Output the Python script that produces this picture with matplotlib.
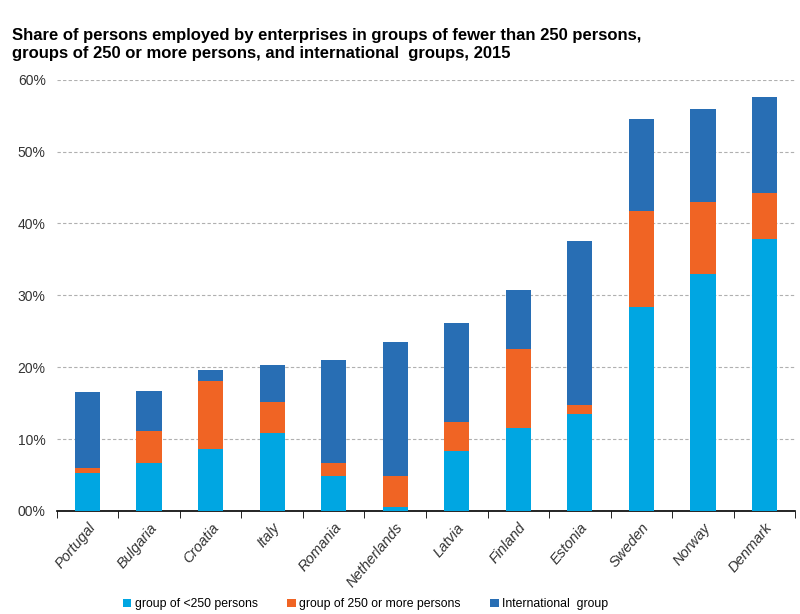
import matplotlib.pyplot as plt
import numpy as np
from matplotlib.ticker import FuncFormatter

plt.rcParams['font.family'] = ['Liberation Sans', 'DejaVu Sans']

# Data (shares in %)
countries = ['Portugal', 'Bulgaria', 'Croatia', 'Italy', 'Romania', 'Netherlands',
             'Latvia', 'Finland', 'Estonia', 'Sweden', 'Norway', 'Denmark']
small_groups = [5.3, 6.6, 8.6, 10.9, 4.9, 0.5, 8.3, 11.6, 13.5, 28.4, 33.0, 37.9]
large_groups = [0.7, 4.5, 9.5, 4.3, 1.8, 4.4, 4.1, 10.9, 1.3, 13.3, 10.0, 6.4]
intl_groups = [10.5, 5.6, 1.5, 5.1, 14.3, 18.6, 13.8, 8.3, 22.7, 12.9, 12.9, 13.3]

labels = ['group of <250 persons', 'group of 250 or more persons', 'International  group']
colors = ['#00A6E2', '#F06424', '#286EB4']

fig = plt.figure(figsize=(8, 6.14), dpi=100)
ax = fig.add_axes([0.071, 0.168, 0.923, 0.702])

x = np.arange(len(countries))
s = np.array(small_groups)
l = np.array(large_groups)
i = np.array(intl_groups)
w = 0.41
ax.bar(x, s, w, color=colors[0], label=labels[0], zorder=3)
ax.bar(x, l, w, bottom=s, color=colors[1], label=labels[1], zorder=3)
ax.bar(x, i, w, bottom=s + l, color=colors[2], label=labels[2], zorder=3)

ax.set_xlim(-0.5, len(countries) - 0.5)
ax.set_ylim(0, 60)
ax.set_yticks(range(0, 61, 10))
ax.yaxis.set_major_formatter(FuncFormatter(lambda v, p: '00%' if v == 0 else '%d%%' % v))
ax.tick_params(axis='y', length=0, labelsize=10, colors='#333333', pad=8)
ax.grid(axis='y', linestyle=(0, (3, 2)), color='#B0B0B0', linewidth=0.8, zorder=0)

# category labels between boundary ticks
ax.set_xticks(x)
ax.set_xticklabels(countries, rotation=50, ha='right', rotation_mode='anchor',
                   fontstyle='italic', fontsize=10.5, color='#333333')
ax.tick_params(axis='x', length=0, pad=7)
ax.set_xticks(np.arange(-0.5, len(countries), 1), minor=True)
ax.tick_params(axis='x', which='minor', length=5, direction='out', color='black')

for side in ['top', 'right', 'left']:
    ax.spines[side].set_visible(False)
ax.spines['bottom'].set_color('black')
ax.spines['bottom'].set_linewidth(1.2)

fig.text(0.015, 0.955, 'Share of persons employed by enterprises in groups of fewer than 250 persons,\n'
         'groups of 250 or more persons, and international  groups, 2015',
         fontsize=12, fontweight='bold', va='top', ha='left', linespacing=1.3)

fig.legend(loc='center', bbox_to_anchor=(0.457, 0.016), ncol=3, frameon=False,
           handlelength=0.7, handleheight=0.7, handletextpad=0.3, columnspacing=2.4,
           fontsize=8.8)

fig.savefig('out.png', dpi=100)
